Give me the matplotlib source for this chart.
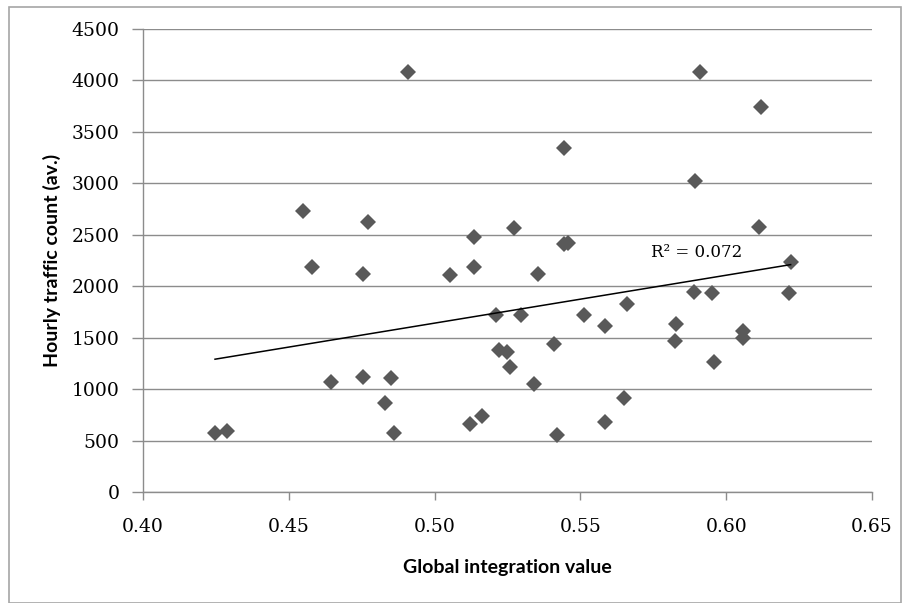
import numpy as np
import matplotlib
matplotlib.use("Agg")
from matplotlib import pyplot as plt
from matplotlib.patches import Rectangle

# data
integration = [0.4247, 0.4287, 0.4549, 0.4578, 0.4644, 0.4755, 0.4755, 0.4772,
               0.4829, 0.4852, 0.4861, 0.4909, 0.5052, 0.5123, 0.5134, 0.5134,
               0.5163, 0.5211, 0.5220, 0.5248, 0.5257, 0.5272, 0.5295, 0.5342,
               0.5353, 0.5409, 0.5419, 0.5443, 0.5443, 0.5457, 0.5514, 0.5583,
               0.5583, 0.5651, 0.5659, 0.5824, 0.5827, 0.5890, 0.5893, 0.5911,
               0.5953, 0.5959, 0.6056, 0.6056, 0.6113, 0.6121, 0.6216, 0.6221]
traffic = [577, 596, 2734, 2184, 1066, 1114, 2119, 2621,
           862, 1105, 570, 4082, 2109, 658, 2475, 2184,
           739, 1720, 1380, 1364, 1218, 2562, 1720, 1050,
           2119, 1438, 557, 3340, 2410, 2417, 1720, 1616,
           683, 910, 1827, 1467, 1630, 1940, 3022, 4082,
           1931, 1263, 1568, 1493, 2572, 3741, 1931, 2232]
r2_label = "R² = 0.072"
x_ticks = [0.40, 0.45, 0.50, 0.55, 0.60, 0.65]
y_ticks = [0, 500, 1000, 1500, 2000, 2500, 3000, 3500, 4000, 4500]

x = np.array(integration)
y = np.array(traffic)
slope, intercept = np.polyfit(x, y, 1)
xs = np.array([x.min(), x.max()])

fig = plt.figure(figsize=(9.02, 6.03), dpi=100)
fig.patches.append(Rectangle((9 / 902, 0.5 / 603), 892 / 902, 596 / 603,
                             transform=fig.transFigure, fill=False,
                             edgecolor="#a6a6a6", linewidth=1.2))

ax = fig.add_axes([143 / 902, 111 / 603, 729 / 902, 463 / 603])
grid_color = "#8c8c8c"
ax.set_axisbelow(True)
ax.yaxis.grid(True, color=grid_color, linewidth=1.0)

ax.plot(x, y, linestyle="none", marker="D", markersize=8.3,
        color="#595959", markeredgewidth=0)
ax.plot(xs, slope * xs + intercept, color="black", linewidth=1.1)

ax.text(0.590, 2330, r2_label, ha="center", va="center",
        fontsize=12, family="DejaVu Serif")

ax.set_xlim(0.40, 0.65)
ax.set_ylim(0, 4500)
ax.set_xticks(x_ticks)
ax.set_yticks(y_ticks)
ax.set_xticklabels(["%.2f" % t for t in x_ticks])

for side in ["top", "right"]:
    ax.spines[side].set_visible(False)
for side in ["left", "bottom"]:
    ax.spines[side].set_color(grid_color)
    ax.spines[side].set_linewidth(1.0)

ax.tick_params(axis="y", length=8, width=1.0, color=grid_color, pad=9)
ax.tick_params(axis="x", length=6, width=1.0, color=grid_color, pad=13)
for lab in ax.get_xticklabels() + ax.get_yticklabels():
    lab.set_family("DejaVu Serif")
    lab.set_fontsize(13.5)

ax.set_xlabel("Global integration value", family="Lato", fontweight="bold",
              fontsize=14, va="center")
ax.xaxis.set_label_coords(0.5, (492 - 568) / 463)
ax.set_ylabel("Hourly traffic count (av.)", family="Lato", fontweight="bold",
              fontsize=14, va="center")
ax.yaxis.set_label_coords((52 - 143) / 729, (492 - 260) / 463)

fig.savefig("out.png", dpi=100)
